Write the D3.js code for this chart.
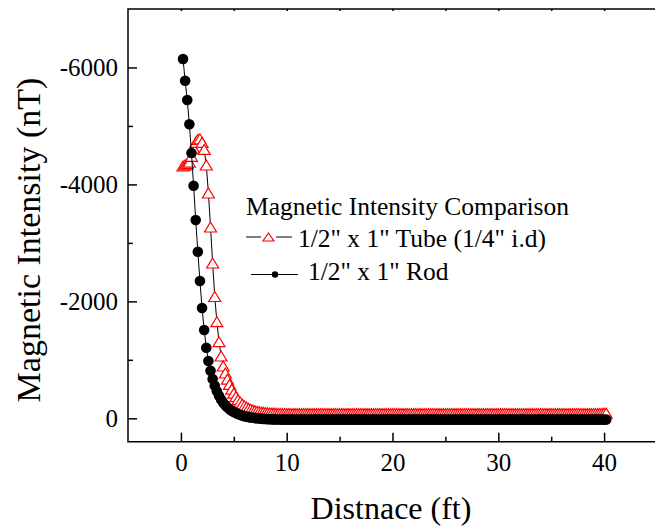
<!DOCTYPE html>
<html>
<head>
<meta charset="utf-8">
<script src="https://cdn.jsdelivr.net/npm/d3@7"></script>
<style>
  html, body { margin: 0; padding: 0; background: #fff; }
  svg { display: block; font-family: "Liberation Serif", "Times New Roman", serif; }
</style>
</head>
<body>
<div id="chart"></div>
<script>
// distance along the line (ft), shared by both series
const distance = [
  0.2, 0.4, 0.6, 0.8, 1.0, 1.2, 1.4, 1.6, 1.8, 2.0,
  2.2, 2.4, 2.6, 2.8, 3.0, 3.2, 3.4, 3.6, 3.8, 4.0,
  4.2, 4.4, 4.6, 4.8, 5.0, 5.2, 5.4, 5.6, 5.8, 6.0,
  6.2, 6.4, 6.6, 6.8, 7.0, 7.2, 7.4, 7.6, 7.8, 8.0,
  8.2, 8.4, 8.6, 8.8, 9.0, 9.2, 9.4, 9.6, 9.8, 10.0,
  10.2, 10.4, 10.6, 10.8, 11.0, 11.2, 11.4, 11.6, 11.8, 12.0,
  12.2, 12.4, 12.6, 12.8, 13.0, 13.2, 13.4, 13.6, 13.8, 14.0,
  14.2, 14.4, 14.6, 14.8, 15.0, 15.2, 15.4, 15.6, 15.8, 16.0,
  16.2, 16.4, 16.6, 16.8, 17.0, 17.2, 17.4, 17.6, 17.8, 18.0,
  18.2, 18.4, 18.6, 18.8, 19.0, 19.2, 19.4, 19.6, 19.8, 20.0,
  20.2, 20.4, 20.6, 20.8, 21.0, 21.2, 21.4, 21.6, 21.8, 22.0,
  22.2, 22.4, 22.6, 22.8, 23.0, 23.2, 23.4, 23.6, 23.8, 24.0,
  24.2, 24.4, 24.6, 24.8, 25.0, 25.2, 25.4, 25.6, 25.8, 26.0,
  26.2, 26.4, 26.6, 26.8, 27.0, 27.2, 27.4, 27.6, 27.8, 28.0,
  28.2, 28.4, 28.6, 28.8, 29.0, 29.2, 29.4, 29.6, 29.8, 30.0,
  30.2, 30.4, 30.6, 30.8, 31.0, 31.2, 31.4, 31.6, 31.8, 32.0,
  32.2, 32.4, 32.6, 32.8, 33.0, 33.2, 33.4, 33.6, 33.8, 34.0,
  34.2, 34.4, 34.6, 34.8, 35.0, 35.2, 35.4, 35.6, 35.8, 36.0,
  36.2, 36.4, 36.6, 36.8, 37.0, 37.2, 37.4, 37.6, 37.8, 38.0,
  38.2, 38.4, 38.6, 38.8, 39.0, 39.2, 39.4, 39.6, 39.8, 40.0,
  40.2
];

// 1/2" x 1" Tube (1/4" i.d), nT
const tube = [
  -4315, -4335, -4355, -4380, -4480, -4620, -4720, -4770, -4780, -4720,
  -4600, -4332, -3853, -3272, -2656, -2083, -1652, -1310, -1066, -895,
  -775, -670, -580, -500, -430, -370, -320, -278, -243, -214,
  -190, -170, -154, -140, -129, -120, -112, -106, -101, -97,
  -93, -90, -88, -86, -84, -83, -82, -81, -80, -80,
  -80, -80, -80, -80, -80, -80, -80, -80, -80, -80,
  -80, -80, -80, -80, -80, -80, -80, -80, -80, -80,
  -80, -80, -80, -80, -80, -80, -80, -80, -80, -80,
  -80, -80, -80, -80, -80, -80, -80, -80, -80, -80,
  -80, -80, -80, -80, -80, -80, -80, -80, -80, -80,
  -80, -80, -80, -80, -80, -80, -80, -80, -80, -80,
  -80, -80, -80, -80, -80, -80, -80, -80, -80, -80,
  -80, -80, -80, -80, -80, -80, -80, -80, -80, -80,
  -80, -80, -80, -80, -80, -80, -80, -80, -80, -80,
  -80, -80, -80, -80, -80, -80, -80, -80, -80, -80,
  -80, -80, -80, -80, -80, -80, -80, -80, -80, -80,
  -80, -80, -80, -80, -80, -80, -80, -80, -80, -80,
  -80, -80, -80, -80, -80, -80, -80, -80, -80, -80,
  -80, -80, -80, -80, -80, -80, -80, -80, -80, -80,
  -80, -80, -80, -80, -80, -80, -80, -82, -84, -86,
  -88
];

// 1/2" x 1" Rod, nT
const rod = [
  -6145, -5774, -5444, -5028, -4537, -3978, -3391, -2849, -2348, -1887,
  -1510, -1208, -980, -814, -672, -556, -462, -385, -322, -268,
  -224, -187, -156, -130, -108, -89, -73, -59, -47, -37,
  -28, -21, -14, -9, -4, 0, 4, 7, 10, 12,
  14, 16, 18, 19, 20, 21, 21, 22, 22, 22,
  22, 22, 22, 22, 22, 22, 22, 22, 22, 22,
  22, 22, 22, 22, 22, 22, 22, 22, 22, 22,
  22, 22, 22, 22, 22, 22, 22, 22, 22, 22,
  22, 22, 22, 22, 22, 22, 22, 22, 22, 22,
  22, 22, 22, 22, 22, 22, 22, 22, 22, 22,
  22, 22, 22, 22, 22, 22, 22, 22, 22, 22,
  22, 22, 22, 22, 22, 22, 22, 22, 22, 22,
  22, 22, 22, 22, 22, 22, 22, 22, 22, 22,
  22, 22, 22, 22, 22, 22, 22, 22, 22, 22,
  22, 22, 22, 22, 22, 22, 22, 22, 22, 22,
  22, 22, 22, 22, 22, 22, 22, 22, 22, 22,
  22, 22, 22, 22, 22, 22, 22, 22, 22, 22,
  22, 22, 22, 22, 22, 22, 22, 22, 22, 22,
  22, 22, 22, 22, 22, 22, 22, 22, 22, 22,
  22, 22, 22, 22, 22, 22, 22, 22, 22, 22,
  22
];

const xMajor = [0, 10, 20, 30, 40];
const xMinor = [5, 15, 25, 35];
const yMajor = [0, -2000, -4000, -6000];
const yMinor = [-1000, -3000, -5000];

const legendTitle = 'Magnetic Intensity Comparison';
const legendTube = '1/2" x 1" Tube (1/4" i.d)';
const legendRod = '1/2" x 1" Rod';

const W = 655, H = 527;
const L = 128, R = 657, T = 9, B = 441.7;

const svg = d3.select('#chart').append('svg').attr('width', W).attr('height', H);

const x = d3.scaleLinear().domain([-5, 45]).range([L, R]);
const y = d3.scaleLinear().domain([400, -7000]).range([B, T]);

const tubePts = distance.map((d, i) => ({ x: d, v: tube[i] }));
const rodPts = distance.map((d, i) => ({ x: d, v: rod[i] }));

// axes
function styleAxis(g) {
  g.select('.domain').remove();
  g.selectAll('.tick line').attr('stroke', '#000').attr('stroke-width', 1.5);
  g.selectAll('.tick text')
    .attr('fill', '#000')
    .style('font-family', '"Liberation Serif", "Times New Roman", serif')
    .style('font-size', '25px');
}

svg.append('g').attr('transform', `translate(0,${B})`)
  .call(d3.axisBottom(x).tickValues(xMajor).tickSize(-9).tickPadding(12).tickFormat(d3.format('d')))
  .call(styleAxis);
svg.append('g').attr('transform', `translate(0,${B})`)
  .call(d3.axisBottom(x).tickValues(xMinor).tickSize(-5).tickFormat(''))
  .call(styleAxis);
svg.append('g').attr('transform', `translate(0,${T})`)
  .call(d3.axisTop(x).tickValues(xMajor.concat(xMinor)).tickSize(-2).tickFormat(''))
  .call(styleAxis);

svg.append('g').attr('transform', `translate(${L},0)`)
  .call(d3.axisLeft(y).tickValues(yMajor).tickSize(-9).tickPadding(10).tickFormat(d => d === 0 ? '0' : '-' + Math.abs(d)))
  .call(styleAxis);
svg.append('g').attr('transform', `translate(${L},0)`)
  .call(d3.axisLeft(y).tickValues(yMinor).tickSize(-5).tickFormat(''))
  .call(styleAxis);

// frame (right edge sits beyond the visible area)
svg.append('path')
  .attr('d', `M${W + 5},${T}H${L}V${B}H${W + 5}`)
  .attr('fill', 'none').attr('stroke', '#000').attr('stroke-width', 1.5);

// axis titles
svg.append('text')
  .attr('x', 391).attr('y', 519).attr('text-anchor', 'middle')
  .style('font-size', '32px').text('Distnace (ft)');
svg.append('text')
  .attr('transform', 'translate(40,240) rotate(-90)').attr('text-anchor', 'middle')
  .style('font-size', '34px').text('Magnetic Intensity (nT)');

// series
const line = d3.line().x(d => x(d.x)).y(d => y(d.v));
const tri = 'M0,-5L6,5L-6,5Z';

const plot = svg.append('g');

plot.append('path').datum(tubePts).attr('d', line)
  .attr('fill', 'none').attr('stroke', '#000').attr('stroke-width', 1);
plot.append('g').selectAll('path').data(tubePts).join('path')
  .attr('d', tri)
  .attr('transform', d => `translate(${x(d.x)},${y(d.v)})`)
  .attr('fill', '#fff').attr('stroke', '#f00').attr('stroke-width', 1.2);

plot.append('path').datum(rodPts).attr('d', line)
  .attr('fill', 'none').attr('stroke', '#000').attr('stroke-width', 1);
plot.append('g').selectAll('circle').data(rodPts).join('circle')
  .attr('cx', d => x(d.x)).attr('cy', d => y(d.v)).attr('r', 5.3)
  .attr('fill', '#000');

// legend
const lg = svg.append('g').style('font-size', '25.5px');
lg.append('text').attr('x', 246).attr('y', 215).text(legendTitle);

lg.append('line').attr('x1', 246).attr('x2', 261).attr('y1', 237).attr('y2', 237)
  .attr('stroke', '#000').attr('stroke-width', 1);
lg.append('line').attr('x1', 276).attr('x2', 292).attr('y1', 237).attr('y2', 237)
  .attr('stroke', '#000').attr('stroke-width', 1);
lg.append('path').attr('d', 'M0,-4L5.5,4L-5.5,4Z')
  .attr('transform', 'translate(268.5,237)')
  .attr('fill', '#fff').attr('stroke', '#f00').attr('stroke-width', 1.2);
lg.append('text').attr('x', 298).attr('y', 247).text(legendTube);

lg.append('line').attr('x1', 251).attr('x2', 298).attr('y1', 274.5).attr('y2', 274.5)
  .attr('stroke', '#000').attr('stroke-width', 1);
lg.append('circle').attr('cx', 275).attr('cy', 274.5).attr('r', 3.2).attr('fill', '#000');
lg.append('text').attr('x', 308).attr('y', 280).text(legendRod);
</script>
</body>
</html>
